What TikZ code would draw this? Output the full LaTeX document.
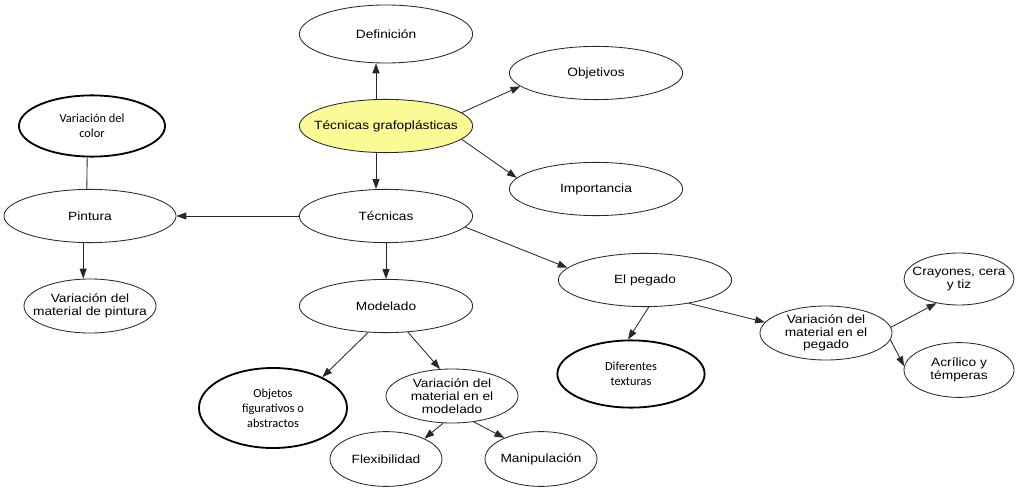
\documentclass[tikz,border=0pt]{standalone}
\usepackage{fontspec}
\setsansfont{Liberation Sans}[FakeStretch=1.15]
\newfontfamily\carlito{Carlito}
\usepackage{tikz}
\usetikzlibrary{arrows.meta,shapes.geometric,positioning}
\definecolor{ideayellow}{RGB}{250,250,150}
\definecolor{linegray}{RGB}{40,40,40}

\begin{document}
\begin{tikzpicture}[
  x=0.025cm,y=-0.025cm,
  idea/.style={ellipse,draw=linegray,line width=0.6pt,
               inner xsep=-0.35cm,inner ysep=-0.1cm,
               minimum width=4.33cm,minimum height=1.33cm,
               font=\fontsize{8.5}{9}\selectfont\sffamily,align=center},
  small/.style={idea,minimum width=2.8cm,minimum height=1.37cm},
  mid/.style={idea,minimum width=3.3cm,minimum height=1.35cm},
  thk/.style={idea,line width=1.3pt,draw=black,
              font=\fontsize{8.8}{10.7}\selectfont\carlito},
  arr/.style={-{Triangle[length=7pt,width=5pt]},line width=0.6pt,draw=linegray},
  lin/.style={line width=0.6pt,draw=linegray},
]
\useasboundingbox (0,0) rectangle (1017,491);

\node[idea,fill=ideayellow] (tg) at (386,126) {Técnicas grafoplásticas};
\node[idea,minimum height=1.45cm] (def) at (386,34) {Definición};
\node[idea] (obj) at (596,73) {Objetivos};
\node[idea] (imp) at (596,189) {Importancia};
\node[idea] (tec) at (386,216) {Técnicas};
\node[idea,minimum width=4.3cm] (pin) at (90,216) {Pintura};
\node[thk,minimum width=3.65cm,minimum height=1.53cm] (col) at (92,126) {Variación del\\color};
\node[mid] (vpin) at (90,306) {Variación del\\material de pintura};
\node[idea] (mod) at (386,306) {Modelado};
\node[thk,minimum width=3.7cm,minimum height=2cm] (objs) at (273,408) {Objetos\\figurativos o\\abstractos};
\node[mid] (vmod) at (452,396) {Variación del\\material en el\\modelado};
\node[small] (flex) at (386,459) {Flexibilidad};
\node[small] (man) at (541,459) {Manipulación};
\node[idea] (peg) at (645,280) {El pegado};
\node[thk,minimum width=3.68cm,minimum height=1.68cm] (dif) at (631,374) {Diferentes\\texturas};
\node[mid] (vpeg) at (826,333) {Variación del\\material en el\\pegado};
\node[small,minimum width=2.75cm,minimum height=1.3cm] (cray) at (959,279) {Crayones, cera\\y tiz};
\node[small,minimum width=2.75cm] (acr) at (959,370) {Acrílico y\\témperas};

\draw[arr] ([xshift=-0.25cm]tg.north) -- ([xshift=-0.25cm]def.south);
\draw[arr] (tg.10) -- (obj.190);
\draw[arr] (tg.-10) -- (imp.172);
\draw[arr] ([xshift=-0.25cm]tg.south) -- ([xshift=-0.25cm]tec.north);
\draw[arr] (tec) -- (pin);
\draw[lin] ([xshift=-0.12cm]col.south) -- ([xshift=-0.08cm]pin.north);
\draw[arr] ([xshift=-0.17cm]pin.south) -- ([xshift=-0.17cm]vpin.north);
\draw[arr] (tec) -- (mod);
\draw[arr] (tec.-8) -- (peg.171);

% Modelado
\draw[arr] (mod.236) -- (objs.32);
\draw[arr] (mod.310) -- (vmod.114);
\draw[arr] (vmod.252) -- (flex.28);
\draw[arr] (vmod.310) -- (man.150);

% El pegado
\draw[arr] (peg.278) -- (dif.95);
\draw[arr] (peg.332) -- (vpeg.170);
\draw[arr] (vpeg.5) -- (cray.227);
\draw[arr] (vpeg.-6) -- (acr.176);
\end{tikzpicture}
\end{document}
